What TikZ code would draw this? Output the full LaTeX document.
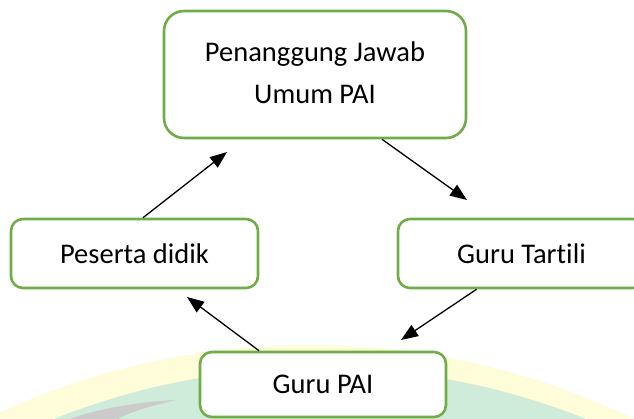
\documentclass[tikz,border=0pt]{standalone}
\usepackage{fontspec}
\setmainfont{Carlito}[Ligatures=NoCommon]
\usetikzlibrary{arrows.meta}
\definecolor{boxgreen}{HTML}{70AD47}
\definecolor{wmyellow}{HTML}{FEFCD9}
\definecolor{wmgreen}{HTML}{CFEBDA}
\definecolor{wmgray}{HTML}{CBCBCB}
\tikzset{
  orgbox/.style={draw=boxgreen, line width=2.6pt, fill=white, rounded corners=12pt,
    font=\fontsize{28.5}{42}\selectfont, align=center, inner sep=0pt},
  link/.style={draw=black, line width=1.3pt, -{Triangle[length=17pt,width=13pt]}}
}
\begin{document}
\begin{tikzpicture}[x=1pt,y=-1pt]
\useasboundingbox (0,0) rectangle (634,419);
\clip (0,0) rectangle (634,419);
% faint watermark
\fill[wmyellow] (310,1090) circle[radius=745];
\fill[wmgreen] (320,1085) circle[radius=717];
\fill[wmgray] (70,419) .. controls (100,408) and (140,402) .. (176,400)
  .. controls (150,406) and (130,412) .. (118,419) -- cycle;
% boxes
\node[orgbox, rounded corners=20pt, minimum width=302pt, minimum height=127pt] (top) at (315,74.5)
  {\raisebox{7pt}{\begin{tabular}{@{}c@{}}Penanggung Jawab\\Umum PAI\end{tabular}}};
\node[orgbox, minimum width=247pt, minimum height=69pt] (peserta) at (134.5,253.5) {Peserta didik};
\node[orgbox, minimum width=247pt, minimum height=69pt] (tartili) at (521.5,253.5) {Guru Tartili};
\node[orgbox, minimum width=246pt, minimum height=65pt] (pai) at (323,384.5) {Guru PAI};
% arrow tips
\coordinate (t1) at (227,152);
\coordinate (t2) at (467,200);
\coordinate (t3) at (401,340);
\coordinate (t4) at (187,297);
\draw[link] ([xshift=8.5pt]peserta.north) -- (t1);
\draw[link] ([xshift=67pt]top.south) -- (t2);
\draw[link] ([xshift=-45pt]tartili.south) -- (t3);
\draw[link] ([xshift=-64pt]pai.north) -- (t4);
\end{tikzpicture}
\end{document}
